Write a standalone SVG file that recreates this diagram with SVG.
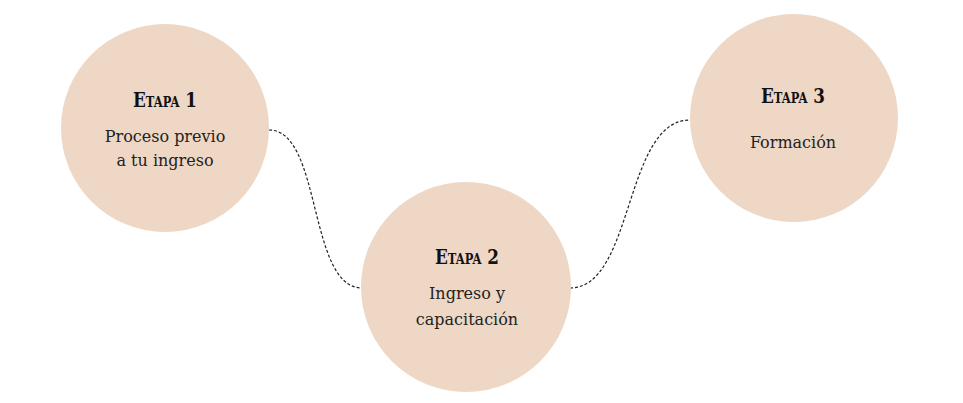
<svg xmlns="http://www.w3.org/2000/svg" width="963" height="403" viewBox="0 0 963 403">
<style>
.node{fill:#EED7C5;}
.title{font-family:"DejaVu Serif",serif;font-weight:bold;font-size:21px;font-variant:small-caps;fill:#111;text-anchor:middle;}
.body{font-family:"DejaVu Serif",serif;font-size:16px;fill:#222;text-anchor:middle;}
.conn{fill:none;stroke:#222;stroke-width:1.2;stroke-dasharray:3 2;}
</style>
<rect width="963" height="403" fill="#ffffff"/>
<g id="connectors">
<path class="conn" d="M269,130 C322,130 308,288 362,288"/>
<path class="conn" d="M570,288 C634,288 624,120 690,120"/>
</g>
<g id="etapa1">
<circle class="node" cx="165" cy="128" r="104"/>
<text class="title" transform="translate(165,107) scale(0.8,1)">Etapa 1</text>
<text class="body" x="165" y="142">Proceso previo</text>
<text class="body" x="165" y="166">a tu ingreso</text>
</g>
<g id="etapa2">
<circle class="node" cx="466" cy="287" r="105"/>
<text class="title" transform="translate(467,264) scale(0.8,1)">Etapa 2</text>
<text class="body" x="467" y="299">Ingreso y</text>
<text class="body" x="467" y="325">capacitación</text>
</g>
<g id="etapa3">
<circle class="node" cx="794" cy="118" r="104"/>
<text class="title" transform="translate(793,103) scale(0.8,1)">Etapa 3</text>
<text class="body" x="793" y="148">Formación</text>
</g>
</svg>
